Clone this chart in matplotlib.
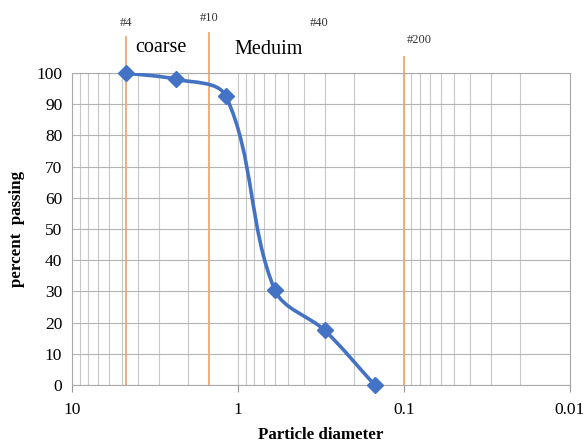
import numpy as np
import matplotlib
matplotlib.use("Agg")
import matplotlib.pyplot as plt
from matplotlib.path import Path
from matplotlib.patches import PathPatch

plt.rcParams['font.family'] = ['Liberation Serif', 'DejaVu Serif']

# sieve data
diameter = [4.75, 2.36, 1.18, 0.6, 0.3, 0.15]
passing = [100, 98, 92.5, 30.5, 17.5, 0]

# sieve marker lines (position, top of line in % units, label)
sieve_x = [4.75, 1.5, 0.1]
sieve_top = [111.5, 113, 105]
sieve_names = ["#4", "#10", "#40", "#200"]
sieve_label_x = [4.75, 1.5, 0.325, 0.081]
sieve_label_y = [116, 117.5, 116, 110.5]

blue = "#4472C4"
orange = "#F0A868"

fig = plt.figure(figsize=(5.87, 4.45), dpi=100)
ax = fig.add_axes([0.1227, 0.1348, 0.848, 0.701])

ax.set_xscale("log")
ax.set_xlim(10, 0.01)
ax.set_ylim(0, 100)
ax.set_yticks(range(0, 101, 10))
ax.set_xticks([10, 1, 0.1, 0.01])
ax.set_xticklabels(["10", "1", "0.1", "0.01"])
ax.tick_params(axis="both", labelsize=12.5, length=0, pad=7)
ax.tick_params(axis="x", which="minor", length=0)
ax.tick_params(axis="x", which="major", length=5, color="#999999", direction="out")

ax.grid(True, which="both", axis="x", color="#c8c8c8", lw=0.8)
ax.grid(True, which="major", axis="y", color="#b4b4b4", lw=0.8)
ax.set_axisbelow(True)
for s in ax.spines.values():
    s.set_color("#aaaaaa")
    s.set_linewidth(0.8)

# smoothed line through the points, worked out in screen-like units
# (u: decades from 10, v: percent scaled to the axes aspect)
u = np.log10(10) - np.log10(diameter)
v = np.array(passing, dtype=float) / 100 * 0.7 * 4.45 / (0.848 * 5.87) * 3
pts = np.column_stack([u, v])
n = len(pts)
tang = []
for i in range(n):
    d = pts[min(i + 1, n - 1)] - pts[max(i - 1, 0)]
    tang.append(d / np.hypot(*d))
verts = [(diameter[0], passing[0])]
codes = [Path.MOVETO]
sy = 100 / (0.7 * 4.45 / (0.848 * 5.87) * 3)
for i in range(n - 1):
    L = np.hypot(*(pts[i + 1] - pts[i])) / 3
    c1 = pts[i] + tang[i] * L
    c2 = pts[i + 1] - tang[i + 1] * L
    for c in (c1, c2):
        verts.append((10 ** (1 - c[0]), c[1] * sy))
    verts.append((diameter[i + 1], passing[i + 1]))
    codes += [Path.CURVE4] * 3
ax.add_patch(PathPatch(Path(verts, codes), fill=False, edgecolor=blue, lw=2.6, zorder=3))
ax.plot(diameter, passing, ls="none", marker="D", ms=8, color=blue, zorder=4, clip_on=False)

for x, t in zip(sieve_x, sieve_top):
    ax.plot([x, x], [0, t], color=orange, lw=1.3, clip_on=False, zorder=2)

for name, x, y in zip(sieve_names, sieve_label_x, sieve_label_y):
    ax.text(x, y, name, fontsize=9, ha="center", va="center", color="#333333")

ax.text(4.17, 108.3, "coarse", fontsize=14.5, va="center")
ax.text(1.05, 107.4, "Meduim", fontsize=14.5, va="center")

ax.set_xlabel("Particle diameter", fontsize=12.2, fontweight="bold", labelpad=7)
ax.set_ylabel("percent  passing", fontsize=12.2, fontweight="bold", labelpad=8)

fig.savefig("out.png", dpi=100)
